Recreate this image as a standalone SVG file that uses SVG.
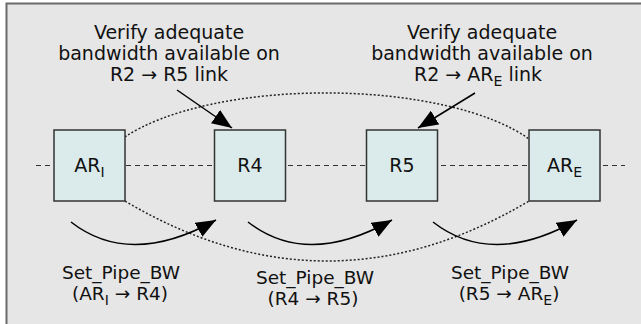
<svg xmlns="http://www.w3.org/2000/svg" width="641" height="324" viewBox="0 0 641 324">
<style>
text{font-family:"DejaVu Sans","Liberation Sans",sans-serif;font-size:19px;fill:#111;text-anchor:middle}
.sm{font-size:18.5px}
.sub{font-size:14px}
.box{fill:#dbeaea;stroke:#333;stroke-width:1.5}
.dash{fill:none;stroke:#333;stroke-width:1;stroke-dasharray:5 4}
.dot{fill:none;stroke:#222;stroke-width:1.5;stroke-dasharray:2 2}
.arr{fill:none;stroke:#000;stroke-width:1.5;marker-end:url(#ah)}
</style>
<defs>
<marker id="ah" markerUnits="userSpaceOnUse" markerWidth="20" markerHeight="16" refX="20" refY="8" orient="auto">
<path d="M0,0 L20,8 L0,16 z" fill="#000"/>
</marker>
</defs>
<rect x="6.5" y="3.5" width="700" height="400" fill="#e6e6e6" stroke="#6b6b6b" stroke-width="2"/>
<g id="connectors">
<line class="dash" x1="36" y1="165.5" x2="625" y2="165.5"/>
<path class="dot" d="M125,137 A228 84 0 0 1 529,139"/>
<path class="dot" d="M125,201 Q327,321 529,201"/>
<path class="arr" d="M177,90 L232,128"/>
<path class="arr" d="M475,93 L418,128"/>
<path class="arr" d="M71,222 Q130,268 216,220"/>
<path class="arr" d="M248,222 Q307,268 392,220"/>
<path class="arr" d="M433,222 Q492,268 577,220"/>
</g>
<g id="ARI"><rect class="box" x="54" y="130" width="71" height="71"/><text x="89.5" y="172">AR<tspan class="sub" dy="5">I</tspan></text></g>
<g id="R4"><rect class="box" x="214.5" y="130" width="71" height="71"/><text x="250" y="172">R4</text></g>
<g id="R5"><rect class="box" x="366.5" y="130" width="71" height="71"/><text x="402" y="172">R5</text></g>
<g id="ARE"><rect class="box" x="529" y="130" width="71" height="71"/><text x="564.5" y="172">AR<tspan class="sub" dy="5">E</tspan></text></g>
<g id="note1">
<text x="169" y="38.5">Verify adequate<tspan x="169" y="59.5">bandwidth available on</tspan><tspan x="169" y="81">R2 → R5 link</tspan></text>
</g>
<g id="note2">
<text x="482" y="38.5">Verify adequate<tspan x="482" y="59.5">bandwidth available on</tspan><tspan x="478" y="81">R2 → AR</tspan><tspan class="sub" dy="5">E</tspan><tspan dy="-5"> link</tspan></text>
</g>
<g id="label1">
<text class="sm" x="121" y="278.5">Set_Pipe_BW<tspan x="120" y="299.5">(AR</tspan><tspan class="sub" dy="5">I</tspan><tspan dy="-5"> → R4)</tspan></text>
</g>
<g id="label2">
<text class="sm" x="315" y="283.5">Set_Pipe_BW<tspan x="313" y="304.5">(R4 → R5)</tspan></text>
</g>
<g id="label3">
<text class="sm" x="510" y="278.5">Set_Pipe_BW<tspan x="509" y="299.5">(R5 → AR</tspan><tspan class="sub" dy="5">E</tspan><tspan dy="-5">)</tspan></text>
</g>
</svg>
